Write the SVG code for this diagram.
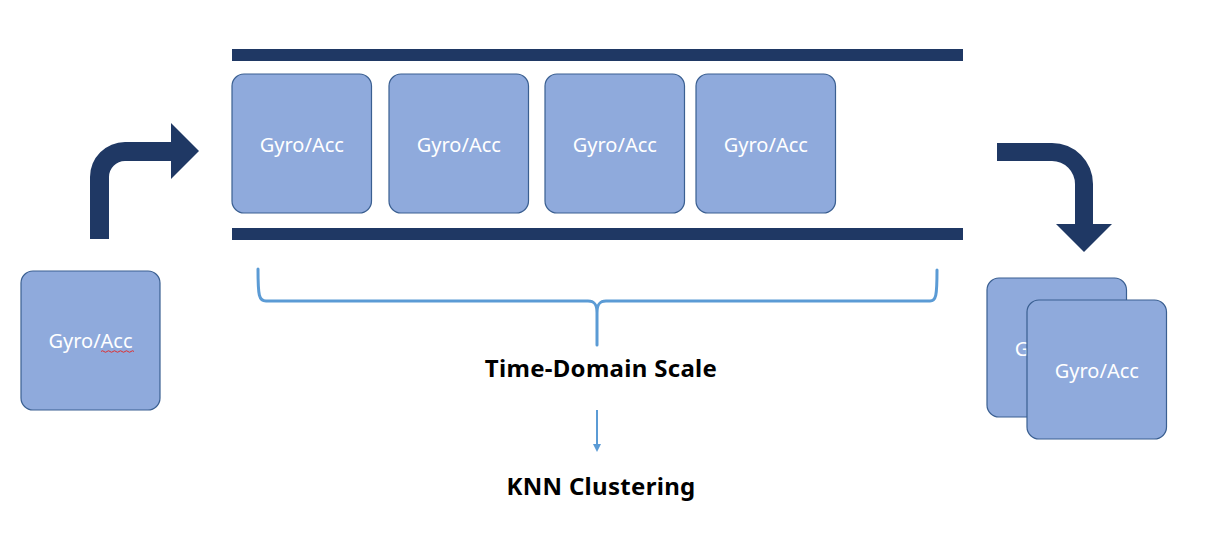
<svg xmlns="http://www.w3.org/2000/svg" width="1232" height="538" viewBox="0 0 1232 538">
<style>
.box{fill:#8FAADC;stroke:#3A5F91;stroke-width:1.2}
.lbl{font-family:"Noto Sans","Open Sans",sans-serif;font-size:20px;fill:#FFFFFF;text-anchor:middle}
.bar{fill:#1F3864}
.big{fill:#1F3864}
.cap{font-family:"Noto Sans","Open Sans",sans-serif;font-size:24px;font-weight:bold;fill:#000;text-anchor:middle;letter-spacing:0.3px}
.brk{fill:none;stroke:#5B9BD5;stroke-width:3;stroke-linecap:round}
</style>
<defs>
<marker id="ah" markerWidth="8" markerHeight="8" refX="4" refY="4" orient="auto" markerUnits="userSpaceOnUse">
<path d="M0,0 L8,4 L0,8 Z" fill="#5B9BD5"/>
</marker>
</defs>
<rect width="1232" height="538" fill="#FFFFFF"/>
<g id="rails">
<rect class="bar" x="232" y="49" width="731" height="12"/>
<rect class="bar" x="232" y="228" width="731" height="12"/>
</g>
<g id="node-input">
<rect class="box" x="21" y="271" width="139" height="139" rx="12"/>
<text class="lbl" x="90.5" y="348">Gyro/Acc</text>
<path d="M101,351.5 q1.5,-1.5 3,0 t3,0 t3,0 t3,0 t3,0 t3,0 t3,0 t3,0 t3,0 t3,0 t3,0" fill="none" stroke="#E03030" stroke-width="1"/>
</g>
<g id="node-w1">
<rect class="box" x="232" y="74" width="139.5" height="139" rx="12"/>
<text class="lbl" x="301.8" y="152">Gyro/Acc</text>
</g>
<g id="node-w2">
<rect class="box" x="389" y="74" width="139.5" height="139" rx="12"/>
<text class="lbl" x="458.8" y="152">Gyro/Acc</text>
</g>
<g id="node-w3">
<rect class="box" x="545" y="74" width="139.5" height="139" rx="12"/>
<text class="lbl" x="614.8" y="152">Gyro/Acc</text>
</g>
<g id="node-w4">
<rect class="box" x="696" y="74" width="139.5" height="139" rx="12"/>
<text class="lbl" x="765.8" y="152">Gyro/Acc</text>
</g>
<g id="node-out-back">
<rect class="box" x="987" y="278" width="139.5" height="139" rx="12"/>
<text class="lbl" x="1056.8" y="355.5">Gyro/Acc</text>
</g>
<g id="node-out-front">
<rect class="box" x="1027" y="300" width="139.5" height="139" rx="12"/>
<text class="lbl" x="1096.8" y="377.5">Gyro/Acc</text>
</g>
<g id="connectors">
<path class="big" d="M90,239 L90,177 A35,35 0 0 1 125,142 L171,142 L171,123 L199,151 L171,179 L171,161 L125,161 A16,16 0 0 0 109,177 L109,239 Z"/>
<path class="big" d="M997,143 L1052,143 A41,41 0 0 1 1093,184 L1093,224 L1112,224 L1084,252 L1056,224 L1075,224 L1075,184 A23,23 0 0 0 1052,161 L997,161 Z"/>
<path class="brk" d="M258,269 C258,296 259,301 266,301 L588,301 C595,301 597,305 597,313 L597,345 M597,313 C597,305 599,301 606,301 L930,301 C936,301 937,296 937,270"/>
<line x1="597" y1="410" x2="597" y2="448" stroke="#5B9BD5" stroke-width="2" marker-end="url(#ah)"/>
</g>
<g id="labels">
<text class="cap" x="601" y="377">Time-Domain Scale</text>
<text class="cap" x="601" y="495">KNN Clustering</text>
</g>
</svg>
